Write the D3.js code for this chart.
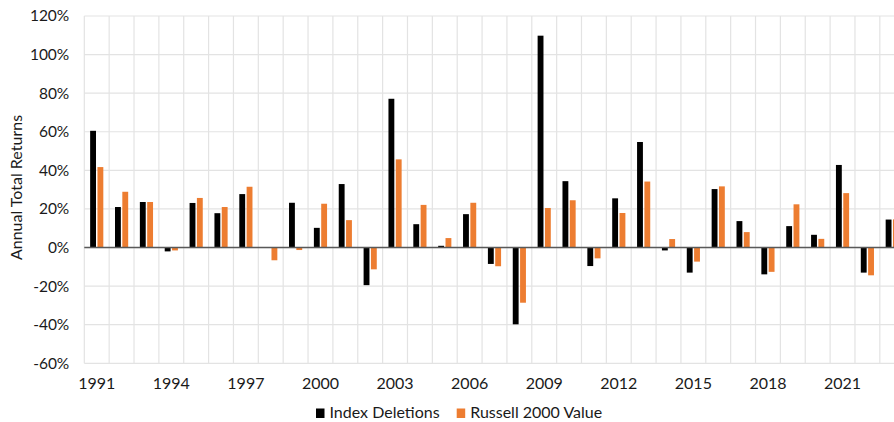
<!DOCTYPE html>
<html><head><meta charset="utf-8">
<script src="https://cdn.jsdelivr.net/npm/d3@7"></script>
<style>
html,body{margin:0;padding:0;background:#fff;overflow:hidden}
svg{display:block}
text{font-family:Lato,"Open Sans",sans-serif;fill:#1a1a1a}
</style></head>
<body><svg id="c" width="894" height="422"></svg>
<script>
const years = d3.range(1991, 2024).map(String);
const seriesNames = ["Index Deletions", "Russell 2000 Value"];
const indexDeletions = [60.5, 21.0, 23.6, -2.0, 23.1, 17.8, 27.7, null, 23.2, 10.2,
  32.9, -19.5, 77.1, 12.1, 0.9, 17.3, -8.5, -39.8, 109.8, 34.4,
  -9.6, 25.5, 54.7, -1.5, -13.0, 30.3, 13.7, -13.9, 11.1, 6.6,
  42.8, -13.0, 14.5];
const russell2000Value = [41.7, 28.9, 23.6, -1.5, 25.7, 21.0, 31.5, -6.6, -1.3, 22.7,
  14.2, -11.3, 45.7, 22.1, 4.9, 23.2, -9.7, -28.6, 20.5, 24.5,
  -5.6, 17.9, 34.2, 4.4, -7.3, 31.7, 8.0, -12.6, 22.4, 4.5,
  28.2, -14.4, 14.6];
const yTicks = [-60, -40, -20, 0, 20, 40, 60, 80, 100, 120];
const xLabelYears = ["1991","1994","1997","2000","2003","2006","2009","2012","2015","2018","2021"];
const colors = ["#000000", "#ED7D31"];

const svg = d3.select("#c");
const left = 84.3, step = 24.86;
const x0 = d3.scaleBand().domain(years).range([left, left + step * years.length]).padding(0);
const bw = x0.bandwidth();
const x1 = d3.scaleBand().domain([0, 1]).range([bw * 0.235, bw * 0.765]).paddingInner(0.2);
const y = d3.scaleLinear().domain([-60, 120]).range([363.3, 16]);

// horizontal gridlines
svg.append("g").selectAll("line").data(yTicks).join("line")
  .attr("x1", left).attr("x2", 894)
  .attr("y1", d => y(d)).attr("y2", d => y(d))
  .attr("stroke", "#e3e3e3").attr("stroke-width", 1.2);
// vertical gridlines at category boundaries
svg.append("g").selectAll("line").data(d3.range(years.length + 1)).join("line")
  .attr("x1", i => left + i * bw).attr("x2", i => left + i * bw)
  .attr("y1", y(120)).attr("y2", y(-60))
  .attr("stroke", "#e3e3e3").attr("stroke-width", 1.2);

// y axis labels
const yAxis = d3.axisLeft(y).tickValues(yTicks).tickFormat(d => d + "%").tickSize(0).tickPadding(15);
const ga = svg.append("g").attr("transform", `translate(${left},0)`).call(yAxis);
ga.select(".domain").remove();
ga.selectAll("text").style("font-family", "Lato, sans-serif").style("font-size", "15.5px").attr("fill", "#1a1a1a");

// x axis labels
const xAxis = d3.axisBottom(x0).tickValues(xLabelYears).tickSize(0).tickPadding(0);
const gx = svg.append("g").attr("transform", `translate(0,${y(-60)})`).call(xAxis);
gx.select(".domain").remove();
gx.selectAll("text").attr("dy", "0").attr("y", 25.5).style("font-family", "Lato, sans-serif").style("font-size", "16px").attr("fill", "#1a1a1a");

// bars
const series = [indexDeletions, russell2000Value];
series.forEach((vals, s) => {
  svg.append("g").selectAll("rect").data(years.map((yr, i) => ({yr, v: vals[i]})).filter(d => d.v !== null)).join("rect")
    .attr("x", d => x0(d.yr) + x1(s))
    .attr("width", x1.bandwidth())
    .attr("y", d => y(Math.max(0, d.v)))
    .attr("height", d => Math.abs(y(d.v) - y(0)))
    .attr("fill", colors[s]);
});

// zero line
svg.append("line").attr("x1", left).attr("x2", 894).attr("y1", y(0)).attr("y2", y(0))
  .attr("stroke", "#595959").attr("stroke-width", 1.6);

// y title
svg.append("text").attr("transform", `translate(22,${187.5}) rotate(-90)`)
  .attr("text-anchor", "middle").style("font-size", "16px").text("Annual Total Returns");

// legend
const legendX = [316, 456.7];
seriesNames.forEach((n, i) => {
  svg.append("rect").attr("x", legendX[i]).attr("y", 408.5).attr("width", 8.5).attr("height", 9.5).attr("fill", colors[i]);
  svg.append("text").attr("x", legendX[i] + 13.5).attr("y", 418).style("font-size", "16px").text(n);
});
</script></body></html>
